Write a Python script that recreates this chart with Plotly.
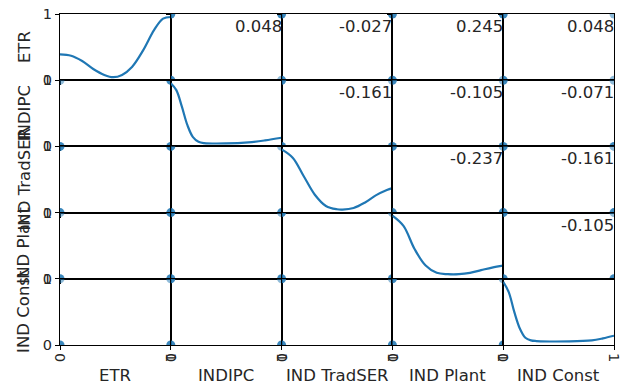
import plotly.graph_objects as go
from plotly.subplots import make_subplots

variables = ["ETR", "INDIPC", "IND TradSER", "IND Plant", "IND Const"]

# Diagonal density curves (x in data units, y as fraction of cell height)
kde_etr_x = [0, 0.1, 0.2, 0.3, 0.4, 0.48, 0.56, 0.65, 0.75, 0.85, 0.93, 1.0]
kde_etr_y = [0.39, 0.37, 0.29, 0.17, 0.08, 0.045, 0.08, 0.2, 0.45, 0.76, 0.93, 0.955]
kde_ipc_x = [0, 0.05, 0.1, 0.15, 0.2, 0.25, 0.3, 0.5, 0.7, 0.85, 1.0]
kde_ipc_y = [0.955, 0.85, 0.6, 0.32, 0.14, 0.07, 0.05, 0.045, 0.06, 0.09, 0.13]
kde_trad_x = [0, 0.1, 0.2, 0.3, 0.4, 0.5, 0.55, 0.65, 0.75, 0.85, 0.95, 1.0]
kde_trad_y = [0.955, 0.83, 0.55, 0.27, 0.1, 0.05, 0.045, 0.07, 0.15, 0.26, 0.34, 0.37]
kde_plant_x = [0, 0.1, 0.2, 0.3, 0.4, 0.5, 0.6, 0.7, 0.8, 0.9, 1.0]
kde_plant_y = [0.955, 0.8, 0.45, 0.2, 0.09, 0.07, 0.07, 0.09, 0.13, 0.17, 0.2]
kde_const_x = [0, 0.05, 0.1, 0.15, 0.2, 0.25, 0.3, 0.6, 0.8, 0.9, 1.0]
kde_const_y = [0.955, 0.8, 0.5, 0.25, 0.11, 0.07, 0.06, 0.055, 0.07, 0.1, 0.14]

kde_x = [kde_etr_x, kde_ipc_x, kde_trad_x, kde_plant_x, kde_const_x]
kde_y = [kde_etr_y, kde_ipc_y, kde_trad_y, kde_plant_y, kde_const_y]

# Pairwise correlations shown in the upper triangle
pairs = [(0, 1), (0, 2), (0, 3), (0, 4), (1, 2), (1, 3), (1, 4), (2, 3), (2, 4), (3, 4)]
corr_values = [0.048, -0.027, 0.245, 0.048, -0.161, -0.105, -0.071, -0.237, -0.161, -0.105]

# Estimated number of observations at each (var_i, var_j) combination: (0,0), (0,1), (1,0), (1,1)
combos = [(0, 0), (0, 1), (1, 0), (1, 1)]
pair_counts = [
    [3, 1, 3, 3],
    [3, 3, 3, 3],
    [3, 1, 3, 3],
    [3, 1, 3, 1],
    [3, 3, 3, 1],
    [3, 3, 3, 1],
    [3, 3, 3, 1],
    [3, 3, 3, 1],
    [3, 3, 3, 1],
    [3, 3, 3, 1],
]

n = len(variables)
BLUE = "#1f77b4"
TXT = "#262626"
FONT = "DejaVu Sans"

fig = make_subplots(rows=n, cols=n, horizontal_spacing=0, vertical_spacing=0)

counts_lookup = {}
for (i, j), cnts in zip(pairs, pair_counts):
    for (a, b), c in zip(combos, cnts):
        counts_lookup[(i, j, a, b)] = c
        counts_lookup[(j, i, b, a)] = c

for r in range(n):
    for c in range(n):
        if r == c:
            fig.add_trace(go.Scatter(x=kde_x[r], y=kde_y[r], mode="lines",
                                     line=dict(color=BLUE, width=2.2, shape="spline", smoothing=1.0),
                                     hoverinfo="skip", showlegend=False), row=r + 1, col=c + 1)
        else:
            xs, ys, ops = [], [], []
            for xv in (0, 1):
                for yv in (0, 1):
                    cnt = counts_lookup[(c, r, xv, yv)]
                    if cnt > 0:
                        xs.append(xv)
                        ys.append(yv)
                        ops.append(1 - 0.5 ** cnt)
            fig.add_trace(go.Scatter(x=xs, y=ys, mode="markers",
                                     marker=dict(color=BLUE, size=9, opacity=ops, line=dict(width=0)),
                                     cliponaxis=True, hoverinfo="skip", showlegend=False),
                          row=r + 1, col=c + 1)

axis_common = dict(range=[0, 1], showgrid=False, zeroline=False, showline=True, mirror=True,
                   linecolor="black", linewidth=1, ticks="outside", ticklen=4, tickwidth=1,
                   tickcolor="black", tickvals=[0, 1], ticktext=["0", "1"], automargin=False,
                   tickfont=dict(family=FONT, size=14.5, color=TXT), fixedrange=True)

for r in range(n):
    for c in range(n):
        fig.update_xaxes(**axis_common, showticklabels=(r == n - 1), tickangle=90,
                         row=r + 1, col=c + 1)
        fig.update_yaxes(**axis_common, showticklabels=(c == 0), row=r + 1, col=c + 1)

# correlation labels
for (i, j), v in zip(pairs, corr_values):
    idx = i * n + j + 1
    xr = "x domain" if idx == 1 else f"x{idx} domain"
    yr = "y domain" if idx == 1 else f"y{idx} domain"
    fig.add_annotation(x=1, y=0.81, xref=xr, yref=yr, text=f"{v:.3f}", showarrow=False,
                       xanchor="right", yanchor="middle", xshift=2,
                       font=dict(family=FONT, size=16.5, color=TXT))

left, right, top, bottom = 60, 14, 14, 40
W, H = 628, 385

for k, name in enumerate(variables):
    # y labels on the left
    fig.add_annotation(x=0, y=1 - (k + 0.5) / n, xref="paper", yref="paper", text=name,
                       textangle=-90, showarrow=False, xanchor="center", yanchor="middle",
                       xshift=-36, font=dict(family=FONT, size=16.5, color=TXT))
    # x labels at the bottom
    fig.add_annotation(x=(k + 0.5) / n, y=0, xref="paper", yref="paper", text=name,
                       showarrow=False, xanchor="center", yanchor="middle", yshift=-30,
                       font=dict(family=FONT, size=16.5, color=TXT))

fig.update_layout(width=W, height=H, margin=dict(l=left, r=right, t=top, b=bottom, autoexpand=False),
                  paper_bgcolor="white", plot_bgcolor="white", showlegend=False)

fig.write_html("out.html")
